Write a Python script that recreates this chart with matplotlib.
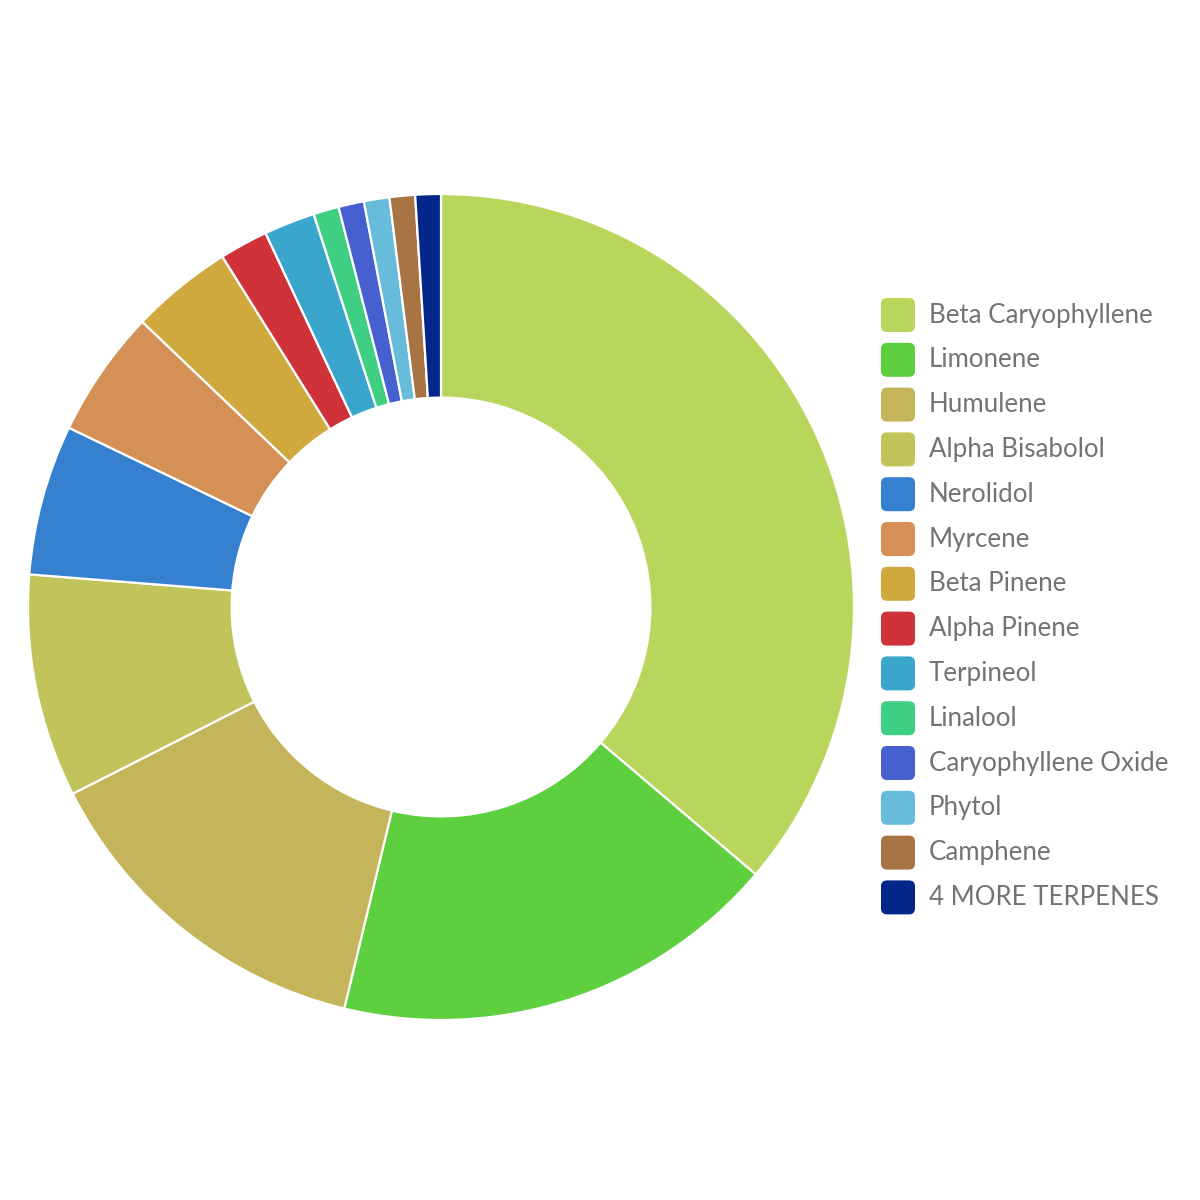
import matplotlib.pyplot as plt
from matplotlib.patches import FancyBboxPatch

# terpene shares (percent)
terpenes = [
    "Beta Caryophyllene", "Limonene", "Humulene", "Alpha Bisabolol",
    "Nerolidol", "Myrcene", "Beta Pinene", "Alpha Pinene", "Terpineol",
    "Linalool", "Caryophyllene Oxide", "Phytol", "Camphene", "4 MORE TERPENES",
]
shares = [36.3, 17.6, 13.8, 8.75, 5.9, 5.0, 4.0, 1.9, 2.0, 1.0, 1.0, 1.0, 1.0, 1.0]
colors = [
    "#b8d65b", "#5ecf3e", "#c4b45a", "#c0c45a", "#3580cf", "#d49055",
    "#cfa83e", "#cf3339", "#3aa6cc", "#3ecf82", "#4660cf", "#68bcdb",
    "#a87443", "#03268a",
]

plt.rcParams["font.family"] = ["Lato", "DejaVu Sans"]

fig = plt.figure(figsize=(12, 12), dpi=100)

# donut: centre at (441, 607) px, outer radius ~413 px
cx, cy, r = 441 / 1200, 1 - 607 / 1200, 413 / 1200
ax = fig.add_axes([cx - r, cy - r, 2 * r, 2 * r])
ax.pie(
    shares,
    colors=colors,
    startangle=90,
    counterclock=False,
    radius=1,
    wedgeprops=dict(width=0.493, edgecolor="white", linewidth=1.6),
)
ax.set_xlim(-1, 1)
ax.set_ylim(-1, 1)
ax.set_aspect("equal")
ax.axis("off")

# legend drawn by hand to match the spacing
x0, size = 881 / 1200, 34 / 1200
y_first, step = 315, 44.8
for i, (name, col) in enumerate(zip(terpenes, colors)):
    yc = 1 - (y_first + i * step) / 1200
    box = FancyBboxPatch(
        (x0, yc - size / 2), size, size,
        boxstyle="round,pad=0,rounding_size=0.005",
        transform=fig.transFigure, facecolor=col, edgecolor="none",
    )
    fig.patches.append(box)
    fig.text(929 / 1200, yc, name, fontsize=18.6, color="#737373", va="center", ha="left")

fig.savefig("out.png", dpi=100, facecolor="white")
